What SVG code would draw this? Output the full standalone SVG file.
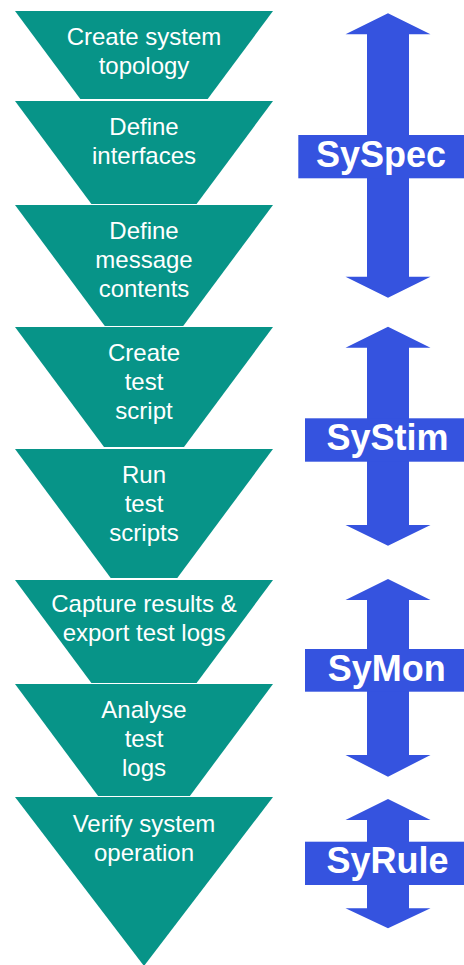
<svg xmlns="http://www.w3.org/2000/svg" width="464" height="965" viewBox="0 0 464 965">
<style>
.step{fill:#079488}
.st{font-family:"Liberation Sans",Arial,sans-serif;font-size:24px;fill:#ffffff;text-anchor:middle}
.arr{fill:#3553DF}
.lb{font-family:"Liberation Sans",Arial,sans-serif;font-size:36px;font-weight:bold;fill:#ffffff;text-anchor:middle}
</style>
<rect width="464" height="965" fill="#ffffff"/>
<g id="step1"><polygon class="step" points="15,11 273,11 207.7,99 80.3,99"/>
<text class="st" x="144" y="45">Create system</text><text class="st" x="144" y="74">topology</text></g>
<g id="step2"><polygon class="step" points="15,101 273,101 196.6,204 91.4,204"/>
<text class="st" x="144" y="135">Define</text><text class="st" x="144" y="164">interfaces</text></g>
<g id="step3"><polygon class="step" points="15,205 273,205 183.2,326 104.8,326"/>
<text class="st" x="144" y="239">Define</text><text class="st" x="144" y="268">message</text><text class="st" x="144" y="297">contents</text></g>
<g id="step4"><polygon class="step" points="15,327 273,327 184,447 104,447"/>
<text class="st" x="144" y="361">Create</text><text class="st" x="144" y="390">test</text><text class="st" x="144" y="419">script</text></g>
<g id="step5"><polygon class="step" points="15,449 273,449 177.3,578 110.7,578"/>
<text class="st" x="144" y="483">Run</text><text class="st" x="144" y="512">test</text><text class="st" x="144" y="541">scripts</text></g>
<g id="step6"><polygon class="step" points="15,580 273,580 196.6,683 91.4,683"/>
<text class="st" x="144" y="612">Capture results &amp;</text><text class="st" x="144" y="641">export test logs</text></g>
<g id="step7"><polygon class="step" points="15,684 273,684 189.9,796 98.1,796"/>
<text class="st" x="144" y="718">Analyse</text><text class="st" x="144" y="747">test</text><text class="st" x="144" y="776">logs</text></g>
<g id="step8"><polygon class="step" points="15,797 273,797 144,966"/>
<text class="st" x="144" y="832">Verify system</text><text class="st" x="144" y="861">operation</text></g>
<g id="syspec"><polygon class="arr" points="388,13.3 430.5,34.3 409,34.3 409,276.7 430.5,276.7 388,297.7 345.5,276.7 367,276.7 367,34.3 345.5,34.3"/>
<rect class="arr" x="298.3" y="135" width="166" height="43.3"/>
<text class="lb" x="381" y="167">SySpec</text></g>
<g id="systim"><polygon class="arr" points="388,326.7 430.5,347.7 409,347.7 409,525 430.5,525 388,545.7 345.5,525 367,525 367,347.7 345.5,347.7"/>
<rect class="arr" x="305" y="418.3" width="160" height="43.4"/>
<text class="lb" x="387.5" y="450">SyStim</text></g>
<g id="symon"><polygon class="arr" points="388,579 430.5,600 409,600 409,755 430.5,755 388,776.7 345.5,755 367,755 367,600 345.5,600"/>
<rect class="arr" x="305" y="649" width="160" height="42.7"/>
<text class="lb" x="386.7" y="681">SyMon</text></g>
<g id="syrule"><polygon class="arr" points="388,799 430.5,820 409,820 409,908.3 430.5,908.3 388,928.3 345.5,908.3 367,908.3 367,820 345.5,820"/>
<rect class="arr" x="305" y="841.7" width="160" height="43.3"/>
<text class="lb" x="387.5" y="873.3">SyRule</text></g>
<g id="connectors"/>
</svg>
